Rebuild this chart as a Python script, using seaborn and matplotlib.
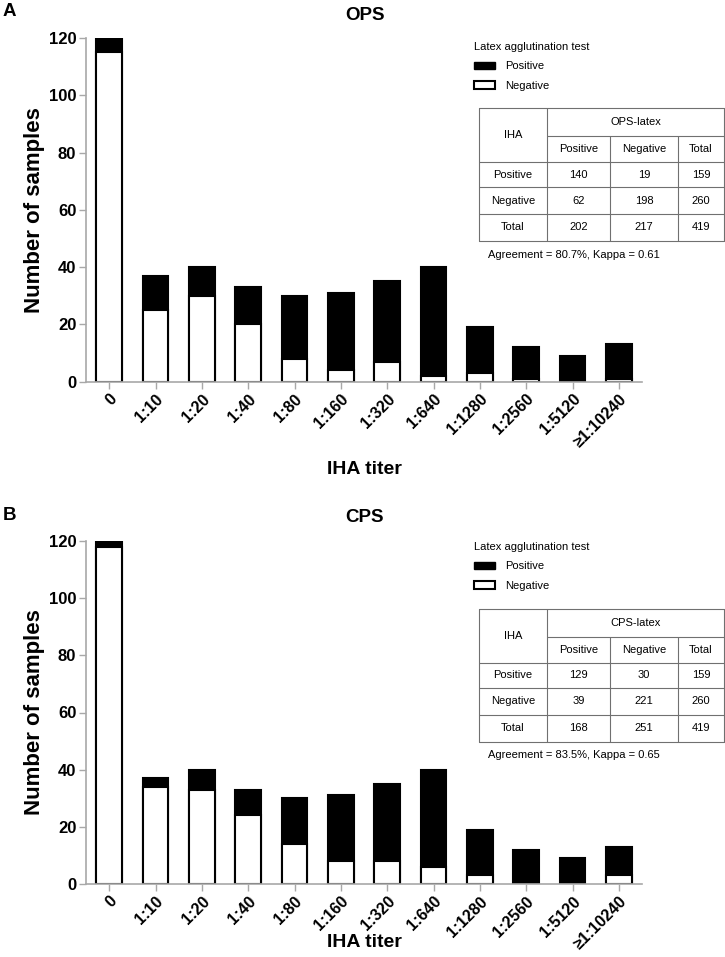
import matplotlib
matplotlib.use("Agg")
import matplotlib.pyplot as plt
import seaborn as sns
import pandas as pd
from matplotlib.patches import Patch
from matplotlib.lines import Line2D

# ---------------- data ----------------
titers = ["0", "1:10", "1:20", "1:40", "1:80", "1:160", "1:320", "1:640",
          "1:1280", "1:2560", "1:5120", "\u22651:10240"]
ops_total = [120, 37, 40, 33, 30, 31, 35, 40, 19, 12, 9, 13]
ops_negative = [115, 25, 30, 20, 8, 4, 7, 2, 3, 1, 0, 1]
cps_total = [120, 37, 40, 33, 30, 31, 35, 40, 19, 12, 9, 13]
cps_negative = [118, 34, 33, 24, 14, 8, 8, 6, 3, 0, 0, 3]

y_ticks = [0, 20, 40, 60, 80, 100, 120]

ops_table_header = "OPS-latex"
cps_table_header = "CPS-latex"
col_labels = ["Positive", "Negative", "Total"]
row_labels = ["Positive", "Negative", "Total"]
ops_table = [[140, 19, 159], [62, 198, 260], [202, 217, 419]]
cps_table = [[129, 30, 159], [39, 221, 260], [168, 251, 419]]
ops_stats = "Agreement = 80.7%, Kappa = 0.61"
cps_stats = "Agreement = 83.5%, Kappa = 0.65"

# ---------------- style ----------------
sns.set_theme(style="white")
plt.rcParams["font.family"] = ["Liberation Sans", "DejaVu Sans"]
plt.rcParams["text.color"] = "black"
plt.rcParams["axes.labelcolor"] = "black"

W, H = 725, 957
fig = plt.figure(figsize=(W / 100, H / 100), dpi=100)


def fx(x):
    return x / W


def fy(y):
    return 1 - y / H


def make_panel(total, negative, title, letter, ax_top, ax_bottom, xlabel_y,
               header, table, stats, tbl_top, legend_top):
    ax = fig.add_axes([fx(86), fy(ax_bottom), fx(642) - fx(86), fy(ax_top) - fy(ax_bottom)])
    df = pd.DataFrame({"titer": titers, "total": total, "negative": negative})
    sns.barplot(data=df, x="titer", y="total", color="black", edgecolor="black",
                linewidth=1.5, width=0.56, saturation=1, ax=ax, order=titers)
    sns.barplot(data=df, x="titer", y="negative", color="white", edgecolor="black",
                linewidth=1.5, width=0.56, saturation=1, ax=ax, order=titers)
    ax.set_ylim(0, 120)
    ax.set_xlim(-0.5, 11.5)
    ax.set_yticks(y_ticks)
    ax.set_yticklabels([str(t) for t in y_ticks], fontsize=12, fontweight="bold")
    ax.set_xticks(range(len(titers)))
    ax.set_xticklabels(titers, rotation=45, ha="right", va="top",
                       rotation_mode="anchor", fontsize=11.5, fontweight="bold")
    for s in ["top", "right"]:
        ax.spines[s].set_visible(False)
    for s in ["left", "bottom"]:
        ax.spines[s].set_color("#a8a8a8")
        ax.spines[s].set_linewidth(1.2)
    ax.tick_params(axis="both", which="both", direction="out", length=5, width=1,
                   color="#a8a8a8", labelcolor="black", left=True, bottom=True, pad=2)
    ax.set_ylabel("Number of samples", fontsize=16, fontweight="bold")
    ax.yaxis.set_label_coords(-0.074, 0.5)
    ax.set_xlabel("IHA titer", fontsize=14, fontweight="bold")
    ax.xaxis.set_label_coords(0.5, (ax_bottom - xlabel_y) / (ax_bottom - ax_top))
    fig.text(fx(365), fy(ax_top - 23), title, fontsize=13.5, fontweight="bold",
             ha="center", va="center")
    fig.text(fx(3), fy(ax_top - 26), letter, fontsize=13.5, fontweight="bold",
             ha="left", va="center")

    # legend
    handles = [Patch(facecolor="black", edgecolor="black", label="Positive"),
               Patch(facecolor="white", edgecolor="black", linewidth=1.5, label="Negative")]
    fig.legend(handles=handles, title="Latex agglutination test",
               loc="upper left", bbox_to_anchor=(fx(474), fy(legend_top)),
               frameon=False, fontsize=8, title_fontsize=8, alignment="left",
               handlelength=1.9, handleheight=0.7, labelspacing=0.85,
               borderpad=0, borderaxespad=0, handletextpad=0.9)

    # table
    xs = [479, 547, 610, 678, 724]
    ys = [tbl_top + d for d in [0, 27.5, 54, 79, 106, 132.5]]
    lc = "#707070"
    lw = 0.8

    def hline(x0, x1, y):
        fig.add_artist(Line2D([fx(x0), fx(x1)], [fy(y), fy(y)], color=lc, lw=lw))

    def vline(x, y0, y1):
        fig.add_artist(Line2D([fx(x), fx(x)], [fy(y0), fy(y1)], color=lc, lw=lw))

    hline(xs[0], xs[4], ys[0])
    hline(xs[1], xs[4], ys[1])
    for y in ys[2:]:
        hline(xs[0], xs[4], y)
    vline(xs[0], ys[0], ys[5])
    vline(xs[1], ys[0], ys[5])
    vline(xs[2], ys[1], ys[5])
    vline(xs[3], ys[1], ys[5])
    vline(xs[4], ys[0], ys[5])
    fs = 8
    fig.text(fx((xs[0] + xs[1]) / 2), fy((ys[0] + ys[2]) / 2), "IHA", fontsize=fs,
             ha="center", va="center")
    fig.text(fx((xs[1] + xs[4]) / 2), fy((ys[0] + ys[1]) / 2), header, fontsize=fs,
             ha="center", va="center")
    for j, lab in enumerate(col_labels):
        fig.text(fx((xs[j + 1] + xs[j + 2]) / 2), fy((ys[1] + ys[2]) / 2), lab,
                 fontsize=fs, ha="center", va="center")
    for i, lab in enumerate(row_labels):
        yc = (ys[i + 2] + ys[i + 3]) / 2
        fig.text(fx((xs[0] + xs[1]) / 2), fy(yc), lab, fontsize=fs, ha="center", va="center")
        for j in range(3):
            fig.text(fx((xs[j + 1] + xs[j + 2]) / 2), fy(yc), str(table[i][j]),
                     fontsize=fs, ha="center", va="center")
    fig.text(fx(488), fy(ys[5] + 14), stats, fontsize=fs, ha="left", va="center")
    return ax


make_panel(ops_total, ops_negative, "OPS", "A", 38, 381.7, 461,
           ops_table_header, ops_table, ops_stats, 108, 42)
make_panel(cps_total, cps_negative, "CPS", "B", 541, 884, 934,
           cps_table_header, cps_table, cps_stats, 609, 542)

fig.savefig("out.png", dpi=100, facecolor="white")
